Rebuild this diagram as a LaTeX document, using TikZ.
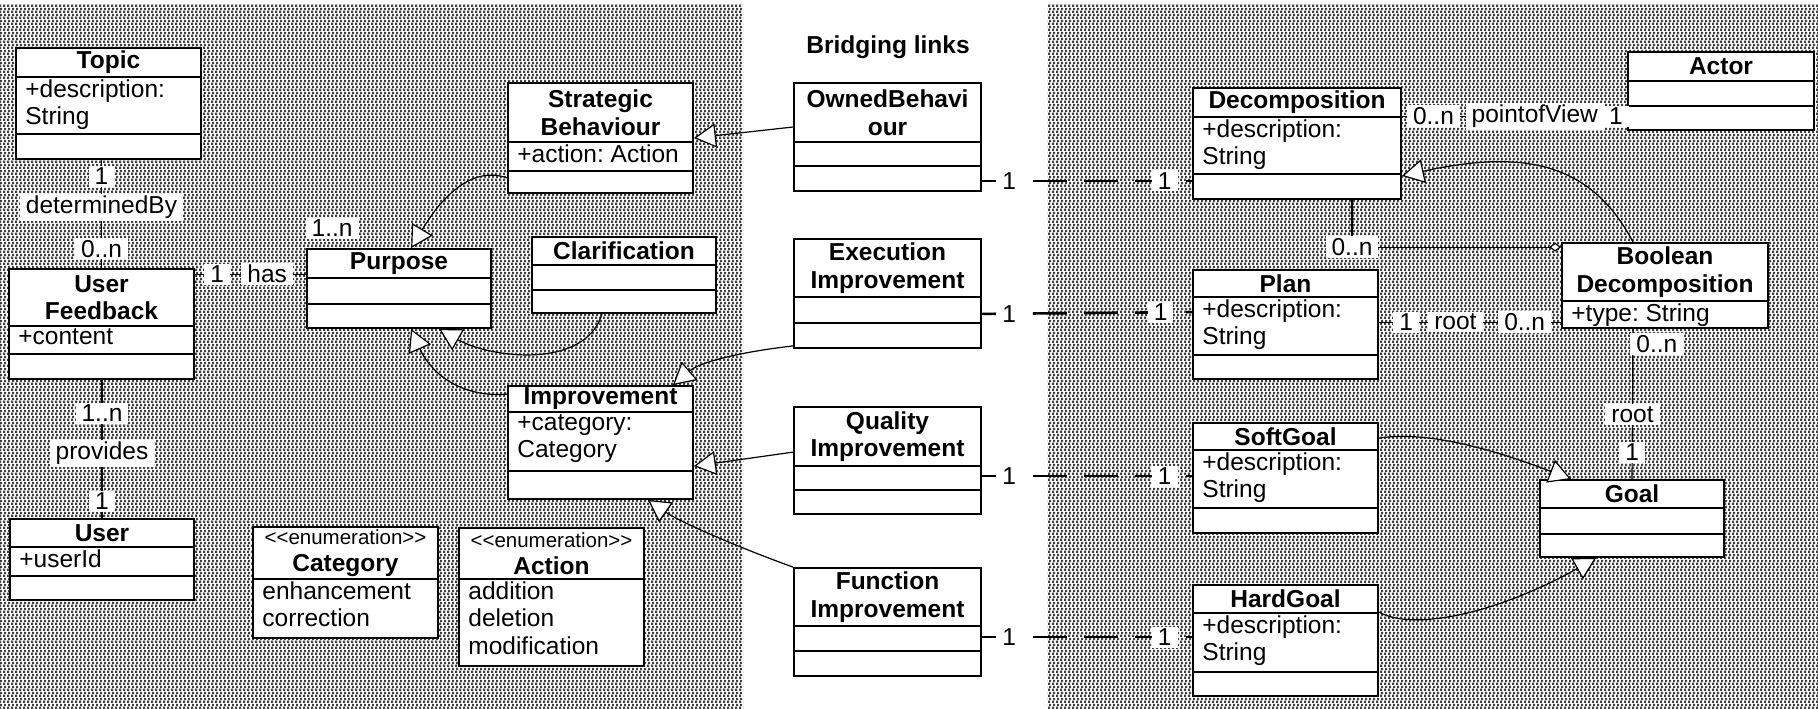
\documentclass[tikz,border=0pt]{standalone}
\usepackage{fontspec}
\setmainfont{Liberation Sans}
\usetikzlibrary{arrows.meta,calc,patterns.meta}

\newcommand{\umlfont}{\fontsize{12.25}{13.8}\selectfont\frenchspacing}
\newcommand{\stereofont}{\mdseries\fontsize{10.25}{12}\selectfont}

\tikzdeclarepattern{
  name=umlchecks,
  type=uncolored,
  bottom left={(0pt,0pt)},
  top right={(2pt,3.2pt)},
  tile size={(2pt,3.2pt)},
  code={
    \fill (0pt,0pt) rectangle (1.25pt,1.25pt);
    \fill (0.75pt,1.6pt) rectangle (2pt,2.85pt);
  }
}

\tikzset{
  classbox/.style={draw, fill=white, line width=0.9pt, inner sep=0pt},
  classline/.style={line width=0.9pt},
  classhead/.style={font=\umlfont\bfseries, align=center, inner sep=0pt},
  classattr/.style={font=\umlfont, anchor=north west, align=left, inner xsep=4.5pt, inner ysep=1pt},
  title/.style={font=\umlfont\bfseries},
  gen/.style={line width=0.6pt, -{Triangle[fill=white, length=11pt, width=12pt]}},
  aggr/.style={line width=0.6pt, -{Diamond[fill=white, length=6pt, width=4.5pt]}},
  assoc/.style={line width=0.6pt},
  bridge/.style={line width=1.3pt, dash pattern=on 17pt off 8.5pt},
  mult/.style={font=\umlfont, fill=white, inner xsep=3pt, inner ysep=1pt},
}

% name, left, top, right, bottom, first rule, second rule, head, attributes
\newcommand{\umlclass}[9]{%
  \node[classbox, minimum width={(#4-#2)*0.5pt}, minimum height={(#5-#3)*0.5pt}]
    (#1) at ({(#2+#4)/2},{(#3+#5)/2}) {};
  \draw[classline] (#2,#6) -- (#4,#6);
  \draw[classline] (#2,#7) -- (#4,#7);
  \node[classhead] (#1-head) at ({(#2+#4)/2},{(#3+#6)/2}) {#8};
  \node[classattr] (#1-attr) at (#2,#6) {#9};
}

\newcommand{\enumhead}[1]{{\stereofont <\kern0pt<enumeration>\kern0pt>}\\#1}

\begin{document}
\begin{tikzpicture}[x=0.5pt, y=-0.5pt, font=\umlfont]
  %\draw [help lines] (0,0) grid[step=100] (1818,708);
  \useasboundingbox (0,0) rectangle (1818,708);
  \fill[white] (0,0) rectangle (1818,708);
  \fill[pattern=umlchecks, pattern color=black!75] (0,4) rectangle (743,708);
  \fill[pattern=umlchecks, pattern color=black!75] (1047,4) rectangle (1818,708);

  \node[title] (bridging) at (888,47) {Bridging links};

  % feedback side
  \umlclass{topic}{16}{48}{201}{159}{77}{134}{Topic}{+description:\\String}
  \umlclass{userfb}{9}{269}{194}{379}{326}{354}{User\\Feedback}{+content}
  \umlclass{user}{10}{519}{194}{600}{547}{576}{User}{+userId}
  \umlclass{category}{253}{527}{438}{638}{579}{638}{\enumhead{Category}}{enhancement\\correction}
  \umlclass{action}{459}{528}{644}{666}{579}{666}{\enumhead{Action}}{addition\\deletion\\modification}
  \umlclass{purpose}{307}{249}{491}{328}{278}{304}{Purpose}{}
  \umlclass{strategic}{508}{83}{693}{193}{142}{171}{Strategic\\Behaviour}{+action: Action}
  \umlclass{clarif}{532}{237}{716}{313}{265}{290}{Clarification}{}
  \umlclass{improv}{508}{386}{693}{499}{412}{471}{Improvement}{+category:\\Category}

  % bridging classes
  \umlclass{owned}{794}{83}{981}{191}{142}{166}{OwnedBehavi\\our}{}
  \umlclass{execimp}{794}{239}{981}{348}{297}{323}{Execution\\Improvement}{}
  \umlclass{qualimp}{794}{407}{981}{514}{466}{490}{Quality\\Improvement}{}
  \umlclass{funcimp}{794}{568}{981}{676}{626}{651}{Function\\Improvement}{}

  % goal side
  \umlclass{decomp}{1193}{88}{1401}{199}{117}{174}{Decomposition}{+description:\\String}
  \umlclass{actor}{1628}{52}{1814}{130}{81}{106}{Actor}{}
  \umlclass{plan}{1193}{270}{1378}{379}{297}{355}{Plan}{+description:\\String}
  \umlclass{booldec}{1562}{243}{1768}{328}{301}{328}{Boolean\\Decomposition}{+type: String}
  \umlclass{softgoal}{1193}{423}{1378}{533}{450}{508}{SoftGoal}{+description:\\String}
  \umlclass{hardgoal}{1193}{585}{1378}{696}{613}{672}{HardGoal}{+description:\\String}
  \umlclass{goal}{1540}{480}{1724}{557}{508}{534}{Goal}{}

  % associations
  \draw[assoc] (topic.south -| userfb.north) to
    node[mult, pos=0.15] {1}
    node[mult, pos=0.44] {determinedBy}
    node[mult, pos=0.82] {0..n} (userfb.north);
  \draw[assoc] ($(userfb.north east)+(0,6)$) to
    node[mult, pos=0.2] {1}
    node[mult, pos=0.65] {has} ($(purpose.north west)+(0,26)$);
  \node[mult] (hasmany) at ($(purpose.north west)+(26,-20)$) {1..n};
  \draw[assoc] (userfb.south -| user.north) to
    node[mult, pos=0.24] {1..n}
    node[mult, pos=0.53] {provides}
    node[mult, pos=0.88] {1} (user.north);

  % generalisations
  \draw[gen] ($(strategic.south west)+(0,-16)$) .. controls (470,165) and (440,200) .. ($(purpose.north west)+(105,0)$);
  \draw[gen] ($(owned.west)+(0,-10)$) to (strategic.east);
  \draw[gen] ($(clarif.south)+(-22,0)$) .. controls (585,370) and (490,358) .. ($(purpose.south west)+(133,0)$);
  \draw[gen] ($(improv.north west)+(0,9)$) .. controls (460,398) and (430,372) .. ($(purpose.south west)+(105,0)$);
  \draw[gen] ($(execimp.south west)+(0,-3)$) .. controls (740,352) and (700,362) .. ($(improv.north east)+(-21,0)$);
  \draw[gen] ($(qualimp.north west)+(0,46)$) to ($(improv.north east)+(0,81)$);
  \draw[gen] (funcimp.north west) .. controls (740,548) and (680,522) .. ($(improv.south east)+(-46,0)$);

  % bridging links
  \draw[bridge] ($(owned.south east)+(0,-11)$) to
    node[mult, pos=0.13] {1} node[mult, pos=0.87] {1} ($(decomp.south west)+(0,-19)$);
  \draw[bridge] ($(execimp.south east)+(0,-35)$) to
    node[mult, pos=0.13] {1} node[mult, pos=0.85] {1} ($(plan.north west)+(0,43)$);
  \draw[bridge] ($(qualimp.north east)+(0,70)$) to
    node[mult, pos=0.13] {1} node[mult, pos=0.87] {1} ($(softgoal.north west)+(0,54)$);
  \draw[bridge] ($(funcimp.north east)+(0,70)$) to
    node[mult, pos=0.13] {1} node[mult, pos=0.87] {1} ($(hardgoal.north west)+(0,53)$);

  % goal model
  \draw[assoc] ($(decomp.north east)+(0,29)$) to
    node[mult, pos=0.14] {0..n}
    node[mult, pos=0.59] {pointofView}
    node[mult, pos=0.95] {1} ($(actor.north west)+(0,65)$);
  \draw[aggr] ($(decomp.south)+(55,0)$) |- node[mult, pos=0.5] {0..n} ($(booldec.north west)+(0,5)$);
  \draw[gen] ($(booldec.north)+(-32,0)$) .. controls (1590,160) and (1520,150) .. ($(decomp.south east)+(0,-24)$);
  \draw[assoc] ($(plan.north east)+(0,53)$) to
    node[mult, pos=0.15] {1}
    node[mult, pos=0.42] {root}
    node[mult, pos=0.8] {0..n} ($(booldec.north west)+(0,80)$);
  \draw[assoc] ($(booldec.south)+(-32,0)$) to
    node[mult, pos=0.1, xshift=12pt] {0..n}
    node[mult, pos=0.57] {root}
    node[mult, pos=0.82] {1} (goal.north);
  \draw[gen] ($(softgoal.north east)+(0,16)$) .. controls (1430,430) and (1500,452) .. ($(goal.north west)+(32,0)$);
  \draw[gen] ($(hardgoal.north east)+(0,28)$) .. controls (1415,632) and (1500,612) .. ($(goal.south west)+(57,0)$);
\end{tikzpicture}
\end{document}
